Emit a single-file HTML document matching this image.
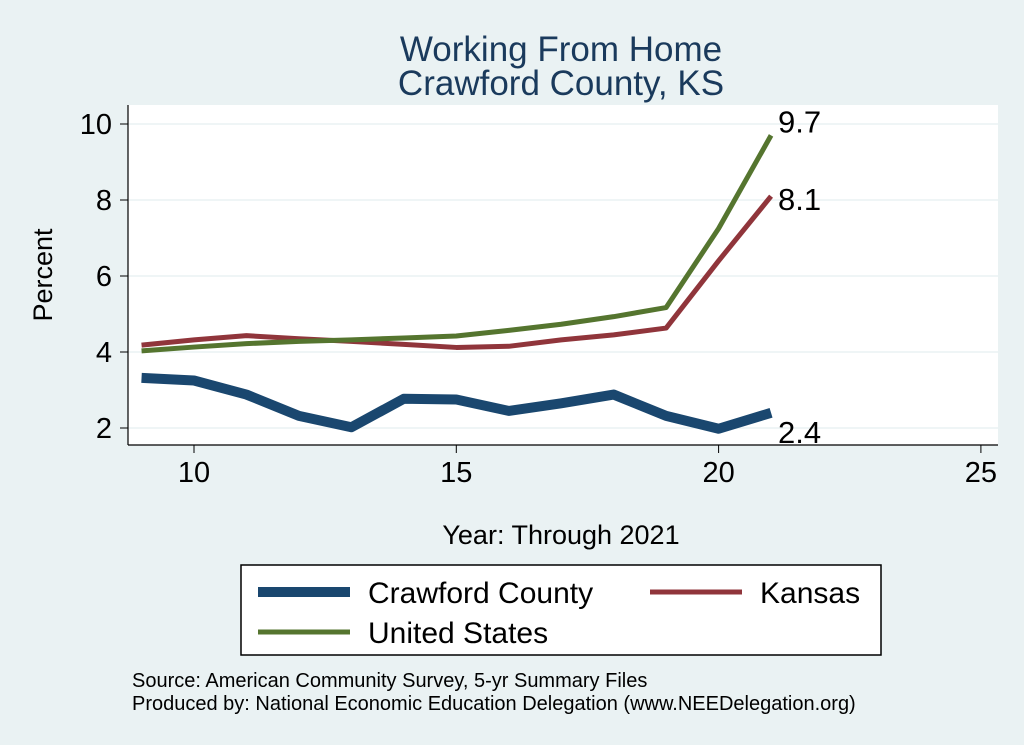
<!DOCTYPE html>
<html><head><meta charset="utf-8"><style>
body{margin:0;background:#eaf2f3;font-family:"Liberation Sans",sans-serif;}
svg{display:block}
</style></head><body>
<svg width="1024" height="745" viewBox="0 0 1024 745">
<rect x="0" y="0" width="1024" height="745" fill="#eaf2f3"/>
<text x="561" y="61" font-size="35" fill="#1a3a5c" text-anchor="middle">Working From Home</text>
<text x="561" y="95" font-size="35" fill="#1a3a5c" text-anchor="middle">Crawford County, KS</text>
<rect x="128" y="105" width="870" height="340" fill="#ffffff"/>
<g id="grid"></g>
<g id="axes"></g>
<g id="series"></g>
<text x="52" y="275" font-size="27" fill="#000" text-anchor="middle" transform="rotate(-90 52 275)">Percent</text>
<text x="561" y="544" font-size="27" fill="#000" text-anchor="middle">Year: Through 2021</text>
<g>
<rect x="241" y="565" width="640" height="90" fill="#fff" stroke="#000" stroke-width="1.5"/>
<line x1="258" y1="592" x2="350" y2="592" stroke="#1a476f" stroke-width="10"/>
<text x="368" y="603" font-size="30">Crawford County</text>
<line x1="650" y1="592" x2="742" y2="592" stroke="#90353b" stroke-width="5"/>
<text x="760" y="603" font-size="30">Kansas</text>
<line x1="258" y1="632" x2="350" y2="632" stroke="#55752f" stroke-width="5"/>
<text x="368" y="643" font-size="30">United States</text>
</g>
<text x="132" y="687" font-size="20">Source: American Community Survey, 5-yr Summary Files</text>
<text x="132" y="710" font-size="20">Produced by: National Economic Education Delegation (www.NEEDelegation.org)</text>
</svg>
<script>
const years=[9,10,11,12,13,14,15,16,17,18,19,20,21];
const crawford=[3.32,3.25,2.88,2.32,2.02,2.77,2.75,2.45,2.65,2.88,2.32,1.98,2.4];
const kansas=[4.18,4.32,4.43,4.35,4.28,4.2,4.12,4.15,4.32,4.45,4.63,6.4,8.1];
const us=[4.03,4.13,4.22,4.28,4.32,4.37,4.42,4.57,4.73,4.93,5.17,7.25,9.7];
const xTicks=[10,15,20,25];
const yTicks=[2,4,6,8,10];
const NS="http://www.w3.org/2000/svg";
const X=v=>194+(v-10)*52.46;
const Y=v=>428-(v-2)*38;
function mk(t,a,p){const e=document.createElementNS(NS,t);for(const k in a)e.setAttribute(k,a[k]);p.appendChild(e);return e;}
const grid=document.getElementById('grid'),axes=document.getElementById('axes'),ser=document.getElementById('series');
mk('line',{x1:128,y1:445,x2:998,y2:445,stroke:'#000','stroke-width':1.2},axes);
mk('line',{x1:128,y1:105,x2:128,y2:445,stroke:'#000','stroke-width':1.2},axes);
yTicks.forEach(v=>{
 const g=mk('line',{x1:128,y1:Y(v),x2:998,y2:Y(v),stroke:'#eaf2f3','stroke-width':1.5},grid);
 
 
 mk('line',{x1:120,y1:Y(v),x2:128,y2:Y(v),stroke:'#000'},axes);
 const t=mk('text',{x:112,y:Y(v)+10,'font-size':29,'text-anchor':'end'},axes);t.textContent=v;
 
 
});
xTicks.forEach(v=>{
 mk('line',{x1:X(v),y1:445,x2:X(v),y2:453,stroke:'#000'},axes);
 const t=mk('text',{x:X(v),y:482,'font-size':29,'text-anchor':'middle'},axes);t.textContent=v;
 
 
});
function line(vals,color,w,name,dy){
 const p=mk('polyline',{points:years.map((y,i)=>X(y)+','+Y(vals[i])).join(' '),fill:'none',stroke:color,'stroke-width':w,'stroke-linejoin':'round'},ser);
 
 
 const n=vals.length-1;
 const t=mk('text',{x:X(years[n])+7,y:Y(vals[n])+dy,'font-size':31},ser);
 t.textContent=vals[n].toFixed(1);
 
 
}
line(crawford,'#1a476f',10,'line-crawford',30);
line(kansas,'#90353b',5,'line-kansas',14);
line(us,'#55752f',5,'line-us',-3);
</script>
</body></html>
